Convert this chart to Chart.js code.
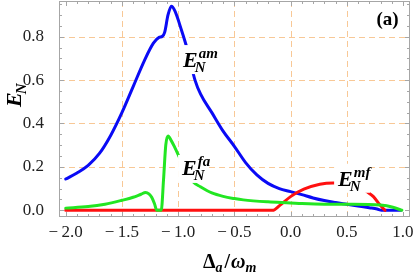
<!DOCTYPE html>
<html>
<head>
<meta charset="utf-8">
<script src="https://cdn.jsdelivr.net/npm/chart.js@4.4.1/dist/chart.umd.min.js"></script>
<style>
html,body{margin:0;padding:0;background:#fff;}
canvas{display:block;}
</style>
</head>
<body>
<canvas id="c" width="415" height="275"></canvas>
<script>
// ---- data ----
const amX = [-2.0,-1.9,-1.8,-1.7,-1.6,-1.5,-1.4,-1.3,-1.22,-1.17,-1.14,-1.12,-1.09,-1.06,-1.03,-0.97,-0.92,-0.85,-0.8,-0.7,-0.6,-0.5,-0.4,-0.3,-0.2,-0.1,0.0,0.1,0.2,0.3,0.4,0.5,0.6,0.7,0.77,0.81,0.98];
const amY = [0.144,0.172,0.207,0.262,0.345,0.45,0.57,0.69,0.77,0.797,0.802,0.82,0.90,0.94,0.92,0.83,0.745,0.60,0.535,0.45,0.365,0.295,0.22,0.163,0.124,0.1,0.086,0.072,0.057,0.045,0.036,0.028,0.02,0.012,0.006,0.0,0.0];

const faX = [-2.0,-1.8,-1.65,-1.5,-1.4,-1.33,-1.29,-1.26,-1.235,-1.21,-1.19,-1.15,-1.13,-1.11,-1.09,-1.06,-1.03,-0.97,-0.92,-0.865,-0.8,-0.7,-0.6,-0.5,-0.42,-0.2,0.0,0.1,0.3,0.55,0.8,0.91,0.99];
const faY = [0.01,0.017,0.028,0.046,0.06,0.074,0.082,0.076,0.06,0.03,0.0,0.0,0.14,0.3,0.342,0.32,0.29,0.224,0.175,0.13,0.108,0.08,0.064,0.054,0.048,0.039,0.034,0.031,0.028,0.028,0.024,0.014,0.0];

const mfX = [-2.0,-0.16,-0.093,0.0,0.118,0.26,0.38,0.5,0.62,0.678,0.737,0.796,0.84];
const mfY = [0.0,0.0,0.024,0.063,0.097,0.12,0.126,0.125,0.105,0.086,0.063,0.024,0.0];

const xTicks = [-2.0,-1.5,-1.0,-0.5,0.0,0.5,1.0];
const yTicks = [0.0,0.2,0.4,0.6,0.8];
const xGrid = [-1.5,-1.0,-0.5,0.0,0.5];
const yGrid = [0.2,0.4,0.6,0.8];

const pts = (xs, ys) => xs.map((x, i) => ({x: x, y: ys[i]}));

const FRAME = '#a6a6a6';
const GRID = '#f8c896';
const SERIF = '"Liberation Serif", "DejaVu Serif", serif';

const decor = {
  id: 'decor',
  beforeDatasetsDraw(chart) {
    const {ctx, chartArea: a, scales: {x, y}} = chart;
    ctx.save();
    ctx.strokeStyle = GRID;
    ctx.lineWidth = 1;
    ctx.setLineDash([6, 4]);
    xGrid.forEach(v => {
      const px = Math.round(x.getPixelForValue(v)) + 0.5;
      ctx.beginPath(); ctx.moveTo(px, a.top); ctx.lineTo(px, a.bottom); ctx.stroke();
    });
    yGrid.forEach(v => {
      const py = Math.round(y.getPixelForValue(v)) + 0.5;
      ctx.beginPath(); ctx.moveTo(a.left, py); ctx.lineTo(a.right, py); ctx.stroke();
    });
    ctx.restore();
  },
  afterDatasetsDraw(chart) {
    const {ctx, chartArea: a, scales: {x, y}} = chart;
    ctx.save();
    // curve labels with white backing
    function label(xv, yv, sup, box) {
      const px = x.getPixelForValue(xv), py = y.getPixelForValue(yv);
      ctx.fillStyle = '#fff';
      ctx.fillRect(px + box[0], py + box[1], box[2], box[3]);
      ctx.fillStyle = '#000';
      ctx.textBaseline = 'alphabetic';
      ctx.textAlign = 'left';
      ctx.font = 'bold italic 22px ' + SERIF;
      ctx.fillText('E', px, py);
      const w = ctx.measureText('E').width;
      ctx.font = 'bold italic 15px ' + SERIF;
      ctx.fillText(sup, px + w + 1, py - 9);
      ctx.fillText('N', px + w - 3, py + 5);
    }
    label(-0.956, 0.66, 'am', [-4, -22, 40, 29]);
    label(-0.965, 0.163, 'fa', [-4, -20, 31, 28]);
    label(0.423, 0.113, 'mf', [-4, -22, 36, 29]);

    // frame
    ctx.strokeStyle = FRAME;
    ctx.lineWidth = 1;
    ctx.setLineDash([]);
    ctx.strokeRect(a.left + 0.5, a.top + 0.5, a.right - a.left - 1, a.bottom - a.top - 1);

    // ticks (inward) on all four sides
    ctx.beginPath();
    for (let i = -20; i <= 10; i++) {
      const v = i / 10;
      const px = Math.round(x.getPixelForValue(v)) + 0.5;
      const len = (i % 5 === 0) ? 5 : 3;
      ctx.moveTo(px, a.bottom); ctx.lineTo(px, a.bottom - len);
      ctx.moveTo(px, a.top); ctx.lineTo(px, a.top + len);
    }
    for (let i = 0; i <= 19; i++) {
      const v = i * 0.05;
      const py = Math.round(y.getPixelForValue(v)) + 0.5;
      if (py < a.top || py > a.bottom) continue;
      const len = (i % 4 === 0) ? 5 : 3;
      ctx.moveTo(a.left, py); ctx.lineTo(a.left + len, py);
      ctx.moveTo(a.right, py); ctx.lineTo(a.right - len, py);
    }
    ctx.stroke();

    // panel tag
    ctx.fillStyle = '#000';
    ctx.textAlign = 'center';
    ctx.textBaseline = 'alphabetic';
    ctx.font = 'bold 19px ' + SERIF;
    ctx.fillText('(a)', 387.5, 25);

    // y title: E_N rotated
    ctx.save();
    ctx.translate(21, 107);
    ctx.rotate(-Math.PI / 2);
    ctx.textAlign = 'left';
    ctx.font = 'bold italic 22px ' + SERIF;
    ctx.fillText('E', 0, 0);
    const ew = ctx.measureText('E').width;
    ctx.font = 'bold italic 15px ' + SERIF;
    ctx.fillText('N', ew - 2, 5);
    ctx.restore();

    // x title: Δ_a / ω_m
    ctx.textAlign = 'left';
    let cx = 203;
    const base = 268;
    ctx.font = 'bold 20px ' + SERIF;
    ctx.fillText('\u0394', cx, base); cx += ctx.measureText('\u0394').width;
    ctx.font = 'bold italic 14px ' + SERIF;
    ctx.fillText('a', cx, base + 4); cx += ctx.measureText('a').width + 2;
    ctx.font = 'bold 20px ' + SERIF;
    ctx.fillText('/', cx, base); cx += ctx.measureText('/').width + 1;
    ctx.font = 'bold italic 20px ' + SERIF;
    ctx.fillText('\u03C9', cx, base); cx += ctx.measureText('\u03C9').width;
    ctx.font = 'bold italic 14px ' + SERIF;
    ctx.fillText('m', cx, base + 4);

    ctx.restore();
  }
};

const fmt = v => {
  const s = Math.abs(v).toFixed(1);
  return v < -1e-9 ? '\u2212\u2009' + s : s;
};

const noPad = s => { s.paddingTop = 0; s.paddingBottom = 0; s.paddingLeft = 0; s.paddingRight = 0; };

new Chart(document.getElementById('c'), {
  type: 'scatter',
  data: {
    datasets: [
      {label: 'fa', data: pts(faX, faY), borderColor: '#22e622', borderWidth: 3},
      {label: 'mf', data: pts(mfX, mfY), borderColor: '#ff1010', borderWidth: 3},
      {label: 'am', data: pts(amX, amY), borderColor: '#0a0af5', borderWidth: 3}
    ].map(d => Object.assign(d, {
      showLine: true, pointRadius: 0, pointHoverRadius: 0, fill: false,
      cubicInterpolationMode: 'monotone', borderCapStyle: 'round', borderJoinStyle: 'round'
    }))
  },
  options: {
    responsive: false,
    animation: false,
    devicePixelRatio: 1,
    layout: {autoPadding: false, padding: {top: 1, right: 5, left: 0, bottom: 0}},
    plugins: {legend: {display: false}, tooltip: {enabled: false}},
    scales: {
      x: {
        type: 'linear', min: -2.0596, max: 1.0623,
        afterBuildTicks: s => { s.ticks = xTicks.map(v => ({value: v})); },
        afterFit: s => { s.height = 58; noPad(s); },
        grid: {display: false}, border: {display: false},
        ticks: {callback: v => fmt(v), font: {family: SERIF, size: 17}, color: '#222', padding: -3, maxRotation: 0, autoSkip: false}
      },
      y: {
        type: 'linear', min: -0.0309, max: 0.9645,
        afterBuildTicks: s => { s.ticks = yTicks.map(v => ({value: v})); },
        afterFit: s => { s.width = 59; noPad(s); },
        grid: {display: false}, border: {display: false},
        ticks: {callback: v => fmt(v), font: {family: SERIF, size: 17}, color: '#222', padding: 7, autoSkip: false}
      }
    }
  },
  plugins: [decor]
});
</script>
</body>
</html>
